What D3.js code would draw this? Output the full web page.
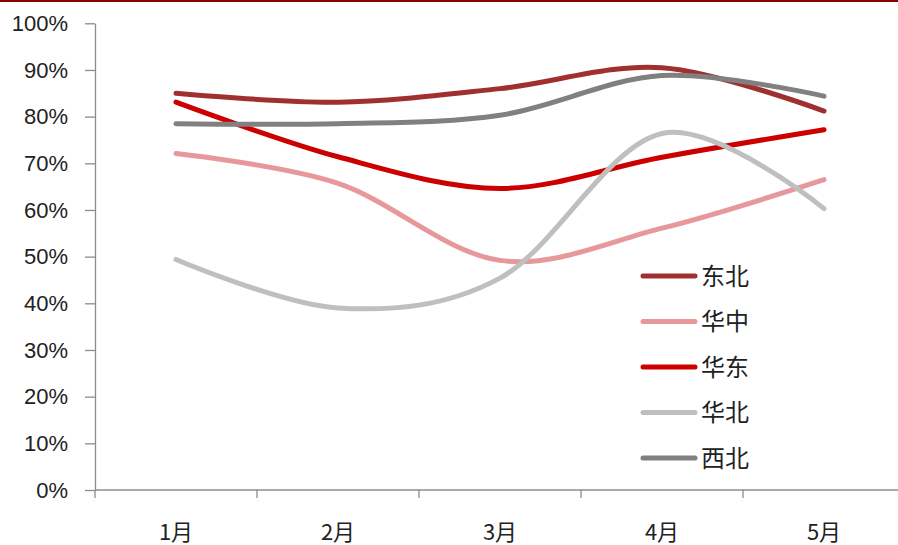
<!DOCTYPE html>
<html>
<head>
<meta charset="utf-8">
<script src="https://cdn.jsdelivr.net/npm/d3@7"></script>
<style>
  html, body { margin: 0; padding: 0; background: #fff; }
  svg { display: block; }
</style>
</head>
<body>
<svg id="chart" width="898" height="545"></svg>
<script>
// Monthly utilisation rate by region (%)
const months = ["1月", "2月", "3月", "4月", "5月"];
const seriesNames = ["东北", "华中", "华东", "华北", "西北"];
const dongbei = [85.0, 83.1, 86.0, 90.5, 81.2];
const huazhong = [72.1, 65.7, 49.2, 56.1, 66.5];
const huadong = [83.1, 71.4, 64.6, 71.3, 77.2];
const huabei = [49.4, 39.0, 45.4, 76.4, 60.3];
const xibei = [78.5, 78.5, 80.3, 88.8, 84.4];
const yTicks = [0, 10, 20, 30, 40, 50, 60, 70, 80, 90, 100];

const seriesValues = [dongbei, huazhong, huadong, huabei, xibei];
const colors = ["#A0302F", "#E6989B", "#CC0000", "#BFBFBF", "#808080"];

const svg = d3.select("#chart");
const W = 898, H = 545;
const plotLeft = 95, plotBottom = 490, plotTop = 23.3;

// thin dark-red rule along the top edge
svg.append("rect").attr("x", 0).attr("y", 0).attr("width", W).attr("height", 2)
  .attr("fill", "#8B0000");

const x = d3.scaleBand().domain(months).range([plotLeft, plotLeft + 162 * 5]).paddingInner(0).paddingOuter(0);
const y = d3.scaleLinear().domain([0, 100]).range([plotBottom, plotTop]);

const axisColor = "#8C8C8C";

// y axis
const yAxis = svg.append("g").attr("transform", `translate(${plotLeft},0)`)
  .call(d3.axisLeft(y).tickValues(yTicks).tickFormat(d => d + "%").tickSize(10).tickSizeOuter(0));
yAxis.select(".domain").attr("stroke", axisColor).attr("stroke-width", 1.3);
yAxis.selectAll(".tick line").attr("stroke", axisColor).attr("stroke-width", 1.3);
yAxis.selectAll(".tick text")
  .attr("x", -27)
  .attr("fill", "#222")
  .style("font-family", "'Liberation Sans', Arial, sans-serif")
  .style("font-size", "22px");

// x axis with ticks on category boundaries
const xAxisG = svg.append("g").attr("transform", `translate(0,${plotBottom})`);
xAxisG.append("line").attr("x1", plotLeft).attr("x2", W).attr("y1", 0).attr("y2", 0)
  .attr("stroke", axisColor).attr("stroke-width", 1.3);
const boundaries = months.map(m => x(m)).concat([x(months[months.length - 1]) + x.bandwidth()]);
xAxisG.selectAll("line.tk").data(boundaries).enter().append("line")
  .attr("class", "tk")
  .attr("x1", d => d).attr("x2", d => d).attr("y1", 0).attr("y2", 8)
  .attr("stroke", axisColor).attr("stroke-width", 1.3);
xAxisG.selectAll("text").data(months).enter().append("text")
  .attr("x", d => x(d) + x.bandwidth() / 2)
  .attr("y", 50)
  .attr("text-anchor", "middle")
  .attr("fill", "#222")
  .style("font-family", "'Noto Sans CJK SC', sans-serif")
  .style("font-size", "22px")
  .text(d => d);

// smoothed lines
const line = d3.line()
  .x((d, i) => x(months[i]) + x.bandwidth() / 2)
  .y(d => y(d))
  .curve(d3.curveCardinal.tension(0));

svg.append("g").selectAll("path").data(seriesValues).enter().append("path")
  .attr("d", d => line(d))
  .attr("fill", "none")
  .attr("stroke", (d, i) => colors[i])
  .attr("stroke-width", 5)
  .attr("stroke-linecap", "round")
  .attr("stroke-linejoin", "round");

// legend
const legend = svg.append("g").attr("transform", "translate(641,276)");
const rows = legend.selectAll("g").data(seriesNames).enter().append("g")
  .attr("transform", (d, i) => `translate(0,${i * 45.5})`);
rows.append("line").attr("x1", 2).attr("x2", 54).attr("y1", 0).attr("y2", 0)
  .attr("stroke", (d, i) => colors[i]).attr("stroke-width", 5).attr("stroke-linecap", "round");
rows.append("text").attr("x", 60).attr("y", 0).attr("dy", "0.36em")
  .attr("fill", "#222")
  .style("font-family", "'Noto Sans CJK SC', sans-serif")
  .style("font-size", "24px")
  .text(d => d);
</script>
</body>
</html>
